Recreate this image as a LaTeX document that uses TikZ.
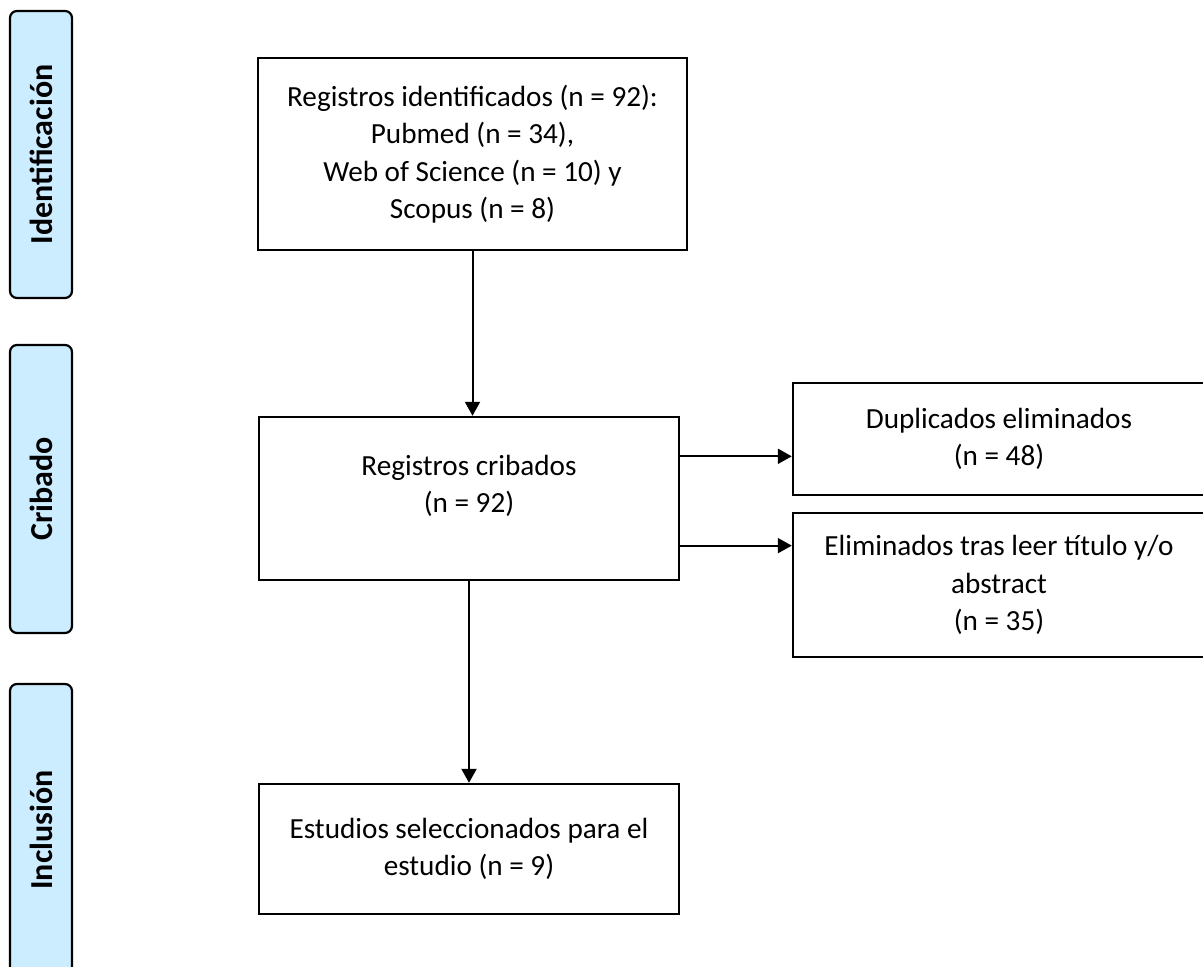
\documentclass[tikz,border=0pt]{standalone}
\usepackage{fontspec}
\setmainfont{Carlito}
\usepackage{tikz}
\usetikzlibrary{arrows.meta, calc}
\definecolor{phase}{RGB}{204, 236, 255}

\begin{document}
\begin{tikzpicture}[x=0.5pt, y=-0.5pt,
    box/.style={draw, line width=1.2pt, align=center, font=\fontsize{14.6}{18.75}\selectfont, inner sep=0pt},
    stage/.style={draw, line width=1.1pt, fill=phase, rounded corners=3.5pt, minimum width=31pt, inner sep=0pt, font=\fontsize{16}{19}\selectfont\bfseries},
    arrow/.style={line width=1pt, -{Triangle[length=7pt, width=7.5pt]}}]

  \useasboundingbox (0, 0) rectangle (1203, 967);

  % fases
  \node[stage, minimum height=143.5pt] (ident) at (41, 154.5) {\rotatebox{90}{Identificación}};
  \node[stage, minimum height=144pt] (crib) at (41, 489) {\rotatebox{90}{Cribado}};
  \node[stage, minimum height=146pt] (incl) at (41, 830) {\rotatebox{90}{Inclusión}};

  % cajas
  \node[box, minimum width=214.5pt, minimum height=96pt] (regid) at (472.5, 154)
    {Registros identificados (n = 92):\\Pubmed (n = 34),\\Web of Science (n = 10) y\\Scopus (n = 8)};
  \node[box, minimum width=210pt, minimum height=81.5pt] (regcrib) at (469, 498.5)
    {Registros cribados\\(n = 92)\\[-4pt]};
  \node[box, minimum width=206pt, minimum height=56pt] (dupl) at (999, 439)
    {Duplicados eliminados\\(n = 48)};
  \node[box, minimum width=206pt, minimum height=72pt] (elim) at (999, 585)
    {Eliminados tras leer título y/o\\abstract\\(n = 35)};
  \node[box, minimum width=210pt, minimum height=65pt] (estud) at (469, 849)
    {Estudios seleccionados para el\\estudio (n = 9)};

  % flechas
  \draw[arrow] (regid.south) -- (regid.south |- regcrib.north);
  \draw[arrow] (regcrib.south) -- (estud.north);

  \coordinate (out1) at ($(regcrib.north east)!0.245!(regcrib.south east)$);
  \coordinate (out2) at ($(regcrib.north east)!0.785!(regcrib.south east)$);
  \draw[arrow] (out1) -- (out1 -| dupl.west);
  \draw[arrow] (out2) -- (out2 -| elim.west);

\end{tikzpicture}
\end{document}
